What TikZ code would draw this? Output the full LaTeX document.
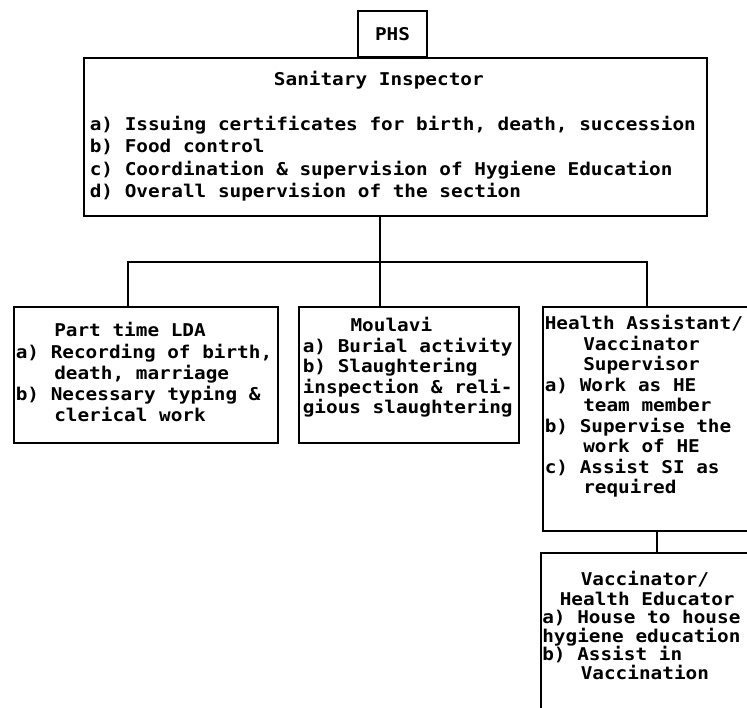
\documentclass[tikz,border=0pt]{standalone}
\usepackage{fontspec}
\newfontfamily\orgfont[FakeStretch=1.1]{DejaVu Sans Mono}
\newlength\chw
\newcommand\ind[1]{\settowidth{\chw}{M}\hspace*{#1\chw}}
\newcommand\boxtxt[5]{\parbox[t][#2][t]{#1}{\fontsize{17.6}{#3}\selectfont\vspace*{#4}\raggedright\strut #5}}

\begin{document}
\begin{tikzpicture}[x=1pt, y=-1pt, line width=1.6pt,
  org box/.style={draw, anchor=north west, inner ysep=0pt, font=\orgfont\bfseries},
  top box/.style={draw, minimum width=69pt, minimum height=46pt, inner sep=0pt, font=\orgfont\bfseries\fontsize{17.6}{20}\selectfont}]
\useasboundingbox (0,0) rectangle (747,707);
\clip (0,0) rectangle (747,707);
\begin{scope}
\node[top box] (phs) at (392.5,34) {PHS};
\node[org box, inner xsep=6pt] (si) at (83,57) {\boxtxt{611pt}{158pt}{22.4pt}{12.3pt}{%
\ind{15.8}Sanitary Inspector\\[\baselineskip]
a) Issuing certificates for birth, death, succession\\
b) Food control\\
c) Coordination \& supervision of Hygiene Education\\
d) Overall supervision of the section}};
\node[org box, inner xsep=2pt] (lda) at (13,306) {\boxtxt{260pt}{136pt}{21.2pt}{15.2pt}{%
\ind{3.3}Part time LDA\\
a) Recording of birth,\\
\ind{3.3}death, marriage\\
b) Necessary typing \&\\
\ind{3.3}clerical work}};
\node[org box, inner xsep=4pt] (moul) at (298,306) {\boxtxt{212pt}{136pt}{20.5pt}{10.6pt}{%
\ind{4.1}Moulavi\\
a) Burial activity\\
b) Slaughtering\\
inspection \& reli-\\
gious slaughtering}};
\node[org box, inner xsep=2pt] (ha) at (542,306) {\boxtxt{214pt}{224pt}{20.5pt}{8.6pt}{%
Health Assistant/\\
\ind{3.3}Vaccinator\\
\ind{3.3}Supervisor\\
a) Work as HE\\
\ind{3.3}team member\\
b) Supervise the\\
\ind{3.3}work of HE\\
c) Assist SI as\\
\ind{3.3}required}};
\node[org box, inner xsep=1.5pt] (ve) at (540,552) {\boxtxt{217pt}{168pt}{18.6pt}{18pt}{%
\ind{3.3}Vaccinator/\\
\ind{1.5}Health Educator\\
a) House to house\\
hygiene education\\
b) Assist in\\
\ind{3.3}Vaccination}};
\end{scope}
\begin{scope}
\coordinate (bus) at (380,262);
\coordinate (busl) at (128,262);
\coordinate (busr) at (647,262);
\coordinate (link) at (657,541);
\draw (si.south -| bus) -- (bus);
\draw (lda.north -| busl) -- (busl) -- (busr) -- (ha.north -| busr);
\draw (bus) -- (moul.north -| bus);
\draw (ha.south -| link) -- (ve.north -| link);
\end{scope}
\end{tikzpicture}
\end{document}
